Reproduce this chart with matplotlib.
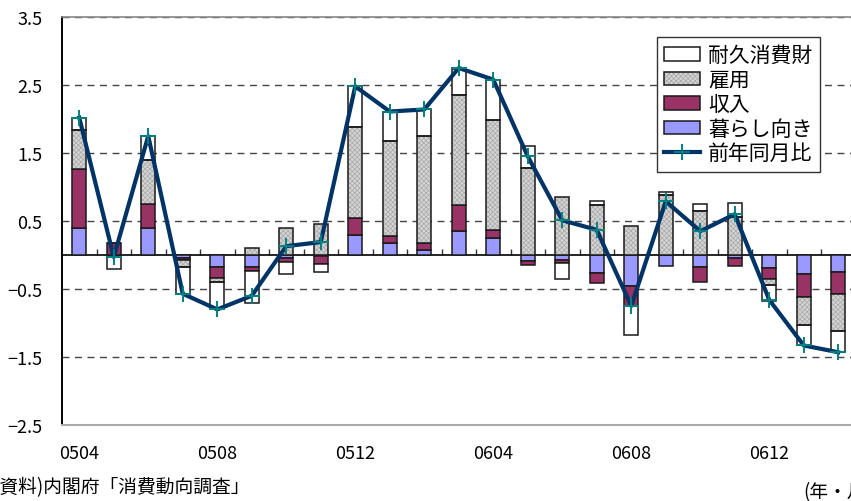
import matplotlib
matplotlib.use("Agg")
import matplotlib.pyplot as plt
import numpy as np
from matplotlib.legend_handler import HandlerTuple

plt.rcParams['font.family'] = ['Noto Sans CJK JP', 'DejaVu Sans']
plt.rcParams['hatch.linewidth'] = 0.5

months = ['0504', '0505', '0506', '0507', '0508', '0509', '0510', '0511',
          '0512', '0601', '0602', '0603', '0604', '0605', '0606', '0607',
          '0608', '0609', '0610', '0611', '0612', '0701', '0702']

# contributions by component (stacked from zero outward in this order)
livelihood = [0.40, -0.02, 0.39, -0.04, -0.17, -0.18, -0.05, -0.01,
              0.30, 0.17, 0.07, 0.36, 0.25, -0.09, -0.08, -0.26,
              -0.46, -0.16, -0.17, -0.04, -0.19, -0.28, -0.25]
income = [0.87, 0.17, 0.365, -0.04, -0.17, -0.06, -0.05, -0.12,
          0.24, 0.11, 0.10, 0.37, 0.12, -0.06, -0.04, -0.15,
          -0.29, 0.00, -0.23, -0.12, -0.16, -0.34, -0.33]
employment = [0.57, 0.00, 0.645, -0.10, -0.05, 0.10, 0.40, 0.45,
              1.34, 1.40, 1.58, 1.62, 1.62, 1.28, 0.86, 0.73,
              0.42, 0.88, 0.65, 0.56, -0.09, -0.41, -0.54]
durables = [0.18, -0.19, 0.345, -0.39, -0.41, -0.46, -0.18, -0.12,
            0.60, 0.42, 0.40, 0.39, 0.59, 0.32, -0.23, 0.06,
            -0.42, 0.05, 0.10, 0.20, -0.24, -0.30, -0.30]
yoy = [2.02, -0.03, 1.75, -0.57, -0.80, -0.60, 0.13, 0.19,
       2.48, 2.11, 2.14, 2.75, 2.58, 1.45, 0.51, 0.37,
       -0.75, 0.79, 0.35, 0.60, -0.66, -1.33, -1.43]

fig = plt.figure(figsize=(8.51, 5.02), dpi=100)
ax = fig.add_axes([62 / 851, 76 / 502, 793.5 / 851, 408 / 502])

x = np.arange(len(months))
width = 0.41
edge = dict(edgecolor='#1a1a1a', linewidth=1.1)

pos_base = np.zeros(len(months))
neg_base = np.zeros(len(months))
handles = {}
for name, vals, color in [('暮らし向き', livelihood, '#9999ff'),
                          ('収入', income, '#993366'),
                          ('雇用', employment, None),
                          ('耐久消費財', durables, '#ffffff')]:
    v = np.asarray(vals)
    bottom = np.where(v >= 0, pos_base, neg_base)
    if color is None:
        # textured grey: hatch layer first, then the black outline on top
        hb = ax.bar(x, v, width, bottom=bottom, color='#d4d4d4',
                    edgecolor='#a8a8a8', hatch='xxxxxxx', linewidth=0, zorder=2)
        ob = ax.bar(x, v, width, bottom=bottom, color='none', zorder=2.1, **edge)
        handles[name] = (hb, ob)
    else:
        handles[name] = ax.bar(x, v, width, bottom=bottom, color=color,
                               zorder=2, **edge)
    pos_base += np.clip(v, 0, None)
    neg_base += np.clip(v, None, 0)

line, = ax.plot(x, yoy, color='#003366', lw=3, marker='+', ms=11,
                mec='#008080', mew=1.4, zorder=5)
handles['前年同月比'] = line

ax.axhline(0, color='black', lw=1.2, zorder=1.5)

yticks = np.arange(-2.5, 3.6, 1.0)
ax.set_xlim(-0.5, len(months) - 0.5)
ax.set_ylim(-2.5, 3.5)
ax.set_yticks(yticks)
ax.set_yticklabels([f'{t:.1f}'.replace('-', '\u2212') for t in yticks])
ax.set_xticks(x[::4])
ax.set_xticklabels(months[::4])
ax.tick_params(axis='y', length=0, pad=14, labelsize=13)
ax.tick_params(axis='x', length=0, pad=14, labelsize=13)

ax.yaxis.grid(True, color='#444444', linestyle=(0, (5, 4)), lw=1.0)
ax.set_axisbelow(True)

ax.spines['left'].set_color('black')
ax.spines['left'].set_linewidth(1.4)
ax.spines['top'].set_color('#888888')
ax.spines['top'].set_linewidth(1.2)
ax.spines['bottom'].set_color('#aaaaaa')
ax.spines['bottom'].set_linewidth(1.5)
ax.spines['right'].set_visible(False)

# small category divider ticks sitting on the zero line
zero_axis = ax.secondary_xaxis(2.5 / 6.0)
zero_axis.set_xticks(x[:-1] + 0.5)
zero_axis.tick_params(direction='in', length=4.5, width=1.0, labelbottom=False,
                      color='#333333')
zero_axis.spines['bottom'].set_visible(False)

order = ['耐久消費財', '雇用', '収入', '暮らし向き', '前年同月比']
leg = ax.legend([handles[k] for k in order], order,
                loc='upper left', bbox_to_anchor=(657 / 851, 1 - 38 / 502),
                bbox_transform=fig.transFigure, borderaxespad=0,
                fontsize=15, frameon=True,
                fancybox=False, edgecolor='#333333', framealpha=1,
                handlelength=1.7, handleheight=0.6, handletextpad=0.4,
                labelspacing=0.12, borderpad=0.35, numpoints=1,
                handler_map={tuple: HandlerTuple(ndivide=1)})
leg.get_frame().set_linewidth(1.0)

fig.text(-7 / 851, 1 - 488 / 502, '(資料)内閣府「消費動向調査」',
         fontsize=13.5, va='center', ha='left')
fig.text(803 / 851, 1 - 493 / 502, '(年・月)', fontsize=13.5,
         va='center', ha='left')

fig.savefig('out.png', dpi=100)
